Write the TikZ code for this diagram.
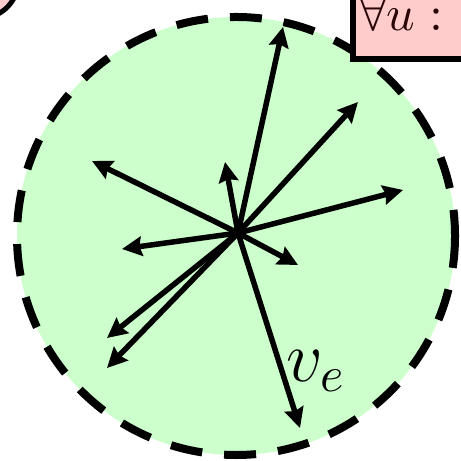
\documentclass[tikz,border=0pt]{standalone}
\usepackage{amsmath,amssymb}
\usetikzlibrary{arrows.meta,positioning}
\definecolor{ballgreen}{HTML}{CCFFCC}
\definecolor{markpink}{HTML}{FFCCCC}
\definecolor{markdark}{HTML}{2A0505}
\tikzset{
  ball/.style={fill=ballgreen, draw=black, line width=1.6pt,
    dash pattern=on 6.4pt off 4.4pt},
  dir/.style={-{Stealth[length=4pt, width=3.9pt, inset=0.5pt]},
    line width=1.1pt, color=black},
  quant/.style={draw=black, fill=markpink, line width=1.2pt, anchor=south west,
    text width=40pt, align=left, inner xsep=1.2pt, inner ysep=3pt,
    text height=12pt, text depth=2.6pt, text=markdark},
  cornerdot/.style={circle, draw=black, fill=markpink, line width=1pt,
    minimum size=15.4pt, inner sep=0pt},
  veclab/.style={font=\Large, inner sep=0pt},
}
\begin{document}
\begin{tikzpicture}[x=0.2pt, y=-0.2pt]
  \useasboundingbox (0,0) rectangle (461,461);
  % the ball of directions
  \coordinate (c) at (236,236);
  \draw[ball] (c) circle[radius=219];
  \coordinate (o) at (238,233);
  \foreach \n/\x/\y in {1/283/27, 2/358/102, 3/403/190, 4/298/265, 5/300/428,
                        6/107/368, 7/107/338, 8/122/249, 9/92/161, 10/225/162} {
    \coordinate (t\n) at (\x,\y);
    \draw[dir] (o) -- (t\n);
  }
  \node[veclab] (ve) at (316,371) {$v_e$};
  % cut-off neighbours
  \node[quant] (forall) at (350,62) {$\forall u :$};
  \node[cornerdot] (corner) at (-20,-20) {};
\end{tikzpicture}
\end{document}
